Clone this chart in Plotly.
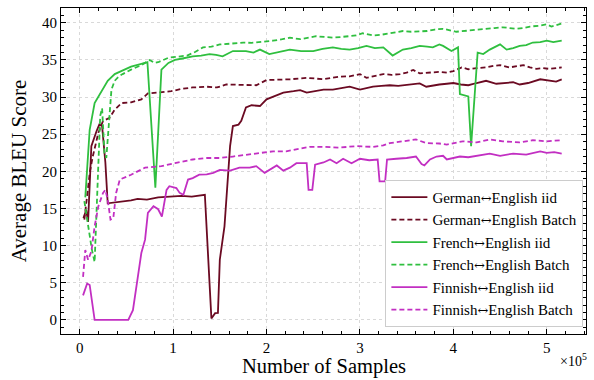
import plotly.graph_objects as go

# Sample counts are in units of 1e5 (axis carries a x10^5 multiplier)
de_iid_x = [0.04, 0.07, 0.09, 0.125, 0.18, 0.21, 0.24, 0.275, 0.30, 0.38, 0.45, 0.55, 0.62, 0.72, 0.84, 0.95,
            1.09, 1.20, 1.34, 1.41, 1.45, 1.48, 1.50, 1.55, 1.61, 1.64, 1.70, 1.73, 1.78, 1.84, 1.93, 2.0,
            2.11, 2.18, 2.29, 2.36, 2.43, 2.52, 2.61, 2.71, 2.80, 2.89, 3.0, 3.07, 3.14, 3.23, 3.32, 3.41,
            3.50, 3.57, 3.64, 3.71, 3.78, 3.85, 3.93, 4.0, 4.08, 4.16, 4.25, 4.35, 4.46, 4.57, 4.64, 4.71,
            4.80, 4.93, 5.03, 5.10, 5.16]
de_iid_y = [13.7, 14.8, 13.2, 23.4, 25.4, 26.3, 26.1, 21.2, 15.7, 15.8, 15.95, 16.1, 16.3, 16.2, 16.5, 16.6,
            16.7, 16.6, 16.85, 0.2, 0.9, 0.95, 8.1, 12.6, 23.4, 26.1, 26.3, 26.8, 28.6, 28.9, 28.8, 29.7,
            30.2, 30.6, 30.8, 30.95, 30.6, 30.8, 31.0, 31.0, 31.2, 31.4, 31.0, 31.2, 31.4, 31.5, 31.6, 31.5,
            31.6, 31.7, 31.85, 31.4, 31.6, 31.7, 31.8, 31.9, 31.7, 31.6, 31.9, 32.2, 31.8, 31.9, 32.0, 31.7,
            31.9, 32.4, 32.2, 32.1, 32.4]

de_batch_x = [0.05, 0.08, 0.11, 0.14, 0.20, 0.25, 0.32, 0.375, 0.45, 0.55, 0.66, 0.73, 0.875, 0.98, 1.09,
              1.21, 1.36, 1.47, 1.57, 1.75, 1.89, 2.0, 2.12, 2.25, 2.34, 2.43, 2.52, 2.61, 2.70, 2.78, 2.89,
              3.0, 3.07, 3.16, 3.25, 3.34, 3.43, 3.50, 3.57, 3.64, 3.74, 3.85, 3.93, 4.0, 4.09, 4.16, 4.25,
              4.35, 4.43, 4.50, 4.60, 4.67, 4.75, 4.82, 4.89, 4.96, 5.03, 5.10, 5.16]
de_batch_y = [13.5, 17.0, 20.0, 22.0, 25.2, 26.8, 27.2, 28.3, 29.2, 29.3, 29.7, 30.5, 30.7, 30.8, 31.1,
              31.3, 31.4, 31.3, 31.7, 31.7, 31.6, 32.3, 32.3, 32.4, 32.5, 32.6, 32.5, 32.4, 32.6, 32.75, 32.8,
              33.1, 32.6, 32.9, 33.1, 33.0, 33.1, 33.3, 33.65, 33.2, 33.3, 33.4, 33.3, 33.5, 34.0, 33.75, 33.9,
              34.0, 34.2, 34.3, 34.0, 34.1, 34.3, 34.0, 33.8, 33.9, 33.8, 33.9, 34.0]

fr_iid_x = [0.06, 0.107, 0.16, 0.23, 0.30, 0.375, 0.46, 0.55, 0.64, 0.725, 0.81, 0.875, 0.95, 1.02, 1.10,
            1.21, 1.30, 1.39, 1.46, 1.53, 1.64, 1.71, 1.78, 1.86, 1.93, 2.03, 2.13, 2.25, 2.37, 2.50, 2.60,
            2.71, 2.80, 2.89, 2.98, 3.07, 3.16, 3.25, 3.35, 3.46, 3.55, 3.64, 3.72, 3.78, 3.85, 3.89, 3.98,
            4.05, 4.07, 4.16, 4.19, 4.26, 4.32, 4.39, 4.50, 4.57, 4.64, 4.71, 4.78, 4.85, 4.93, 5.0, 5.07,
            5.16]
fr_iid_y = [16.5, 25.6, 29.2, 30.8, 32.2, 33.1, 33.6, 34.1, 34.4, 34.7, 17.8, 33.7, 34.6, 35.0, 35.2,
            35.5, 35.6, 35.8, 35.7, 35.5, 36.2, 36.2, 36.2, 36.0, 36.4, 35.8, 36.1, 36.4, 36.2, 36.2, 36.5,
            36.7, 36.5, 36.4, 36.6, 36.9, 36.6, 36.7, 35.6, 36.4, 36.6, 36.9, 36.8, 36.7, 37.1, 36.9, 36.2,
            36.7, 30.4, 30.1, 23.4, 36.0, 35.8, 36.4, 37.1, 36.4, 36.6, 36.9, 37.0, 37.35, 37.4, 37.6, 37.4,
            37.6]

fr_batch_x = [0.05, 0.09, 0.13, 0.16, 0.19, 0.22, 0.24, 0.265, 0.285, 0.31, 0.34, 0.375, 0.42, 0.46, 0.55,
              0.66, 0.75, 0.80, 0.84, 0.95, 1.05, 1.15, 1.24, 1.32, 1.41, 1.50, 1.62, 1.75, 1.84, 1.93, 2.07,
              2.17, 2.25, 2.36, 2.45, 2.53, 2.62, 2.71, 2.80, 2.89, 2.96, 3.03, 3.14, 3.23, 3.32, 3.46, 3.55,
              3.64, 3.72, 3.80, 3.89, 4.03, 4.10, 4.18, 4.27, 4.35, 4.44, 4.53, 4.68, 4.75, 4.82, 4.91, 5.0,
              5.05, 5.10, 5.16]
fr_batch_y = [16.0, 12.5, 9.5, 7.8, 17.0, 27.5, 28.5, 22.5, 21.8, 26.0, 31.0, 32.2, 32.8, 33.1, 33.7,
              34.3, 35.0, 34.6, 34.7, 35.3, 35.5, 35.6, 36.1, 36.7, 36.8, 37.1, 37.2, 37.35, 37.3, 37.4, 37.6,
              37.8, 38.0, 37.8, 38.0, 38.2, 38.1, 38.0, 38.1, 38.2, 38.3, 38.6, 38.3, 38.4, 38.6, 38.9, 38.8,
              38.8, 38.9, 39.1, 39.2, 38.8, 38.9, 39.0, 39.1, 39.2, 39.3, 39.4, 39.2, 39.3, 39.5, 39.6, 39.8,
              39.5, 39.7, 39.9]

fi_iid_x = [0.036, 0.08, 0.107, 0.16, 0.30, 0.45, 0.52, 0.57, 0.61, 0.66, 0.70, 0.73, 0.79, 0.84, 0.88,
            0.93, 0.96, 1.035, 1.07, 1.11, 1.16, 1.21, 1.28, 1.36, 1.43, 1.50, 1.61, 1.71, 1.82, 1.89, 1.98,
            2.03, 2.11, 2.18, 2.25, 2.32, 2.43, 2.45, 2.49, 2.52, 2.61, 2.68, 2.75, 2.82, 2.91, 3.0, 3.1,
            3.19, 3.21, 3.27, 3.29, 3.39, 3.50, 3.60, 3.66, 3.69, 3.75, 3.82, 3.89, 3.93, 4.07, 4.16, 4.25,
            4.39, 4.50, 4.64, 4.78, 4.93, 5.0, 5.08, 5.16]
fi_iid_y = [3.3, 4.9, 4.7, 0.0, 0.0, 0.0, 0.0, 1.3, 4.5, 9.0, 10.8, 14.4, 15.3, 14.9, 13.9,
            17.5, 18.0, 17.75, 17.1, 16.85, 18.9, 19.1, 19.55, 19.6, 19.8, 20.2, 20.1, 20.5, 20.5, 20.7, 19.8,
            20.2, 20.8, 20.1, 20.5, 21.1, 21.1, 17.5, 17.5, 20.9, 21.2, 21.6, 21.1, 21.7, 21.1, 21.7, 21.5,
            21.6, 18.65, 18.65, 21.6, 21.7, 21.8, 22.0, 21.0, 20.8, 21.6, 22.0, 22.1, 21.6, 22.0, 21.9, 22.1,
            22.4, 22.1, 22.4, 22.25, 22.7, 22.5, 22.6, 22.4]

fi_batch_x = [0.036, 0.06, 0.09, 0.125, 0.16, 0.20, 0.25, 0.275, 0.30, 0.33, 0.36, 0.39, 0.43, 0.55, 0.70,
              0.875, 1.02, 1.12, 1.21, 1.36, 1.50, 1.64, 1.78, 1.93, 2.07, 2.21, 2.32, 2.46, 2.61, 2.78, 2.96,
              3.14, 3.25, 3.32, 3.46, 3.60, 3.71, 3.85, 3.93, 4.10, 4.25, 4.39, 4.53, 4.71, 4.85, 5.0, 5.16]
fi_batch_y = [5.8, 9.4, 8.1, 9.2, 12.6, 15.3, 17.1, 17.5, 16.2, 13.5, 13.7, 17.1, 18.9, 19.55, 20.5,
              20.7, 21.1, 21.35, 21.6, 21.8, 21.8, 22.0, 22.25, 22.5, 22.7, 22.7, 23.0, 23.3, 23.3, 23.2, 23.4,
              23.3, 23.5, 23.8, 24.05, 24.3, 23.8, 23.75, 23.6, 24.05, 23.9, 24.3, 24.05, 23.9, 24.2, 24.05, 24.2]

MAROON = "#6b0a22"
GREEN = "#2fbf3f"
MAGENTA = "#c22fc2"

ARROW = '<span style="font-family:DejaVu Serif;font-size:13px">↔</span>'

series = [
    ("German" + ARROW + "English iid", de_iid_x, de_iid_y, MAROON, "solid"),
    ("German" + ARROW + "English Batch", de_batch_x, de_batch_y, MAROON, "5px,3px"),
    ("French" + ARROW + "English iid", fr_iid_x, fr_iid_y, GREEN, "solid"),
    ("French" + ARROW + "English Batch", fr_batch_x, fr_batch_y, GREEN, "5px,3px"),
    ("Finnish" + ARROW + "English iid", fi_iid_x, fi_iid_y, MAGENTA, "solid"),
    ("Finnish" + ARROW + "English Batch", fi_batch_x, fi_batch_y, MAGENTA, "5px,3px"),
]

SERIF = "Liberation Serif, serif"

fig = go.Figure()
for name, xs, ys, color, dash in series:
    fig.add_trace(go.Scatter(x=xs, y=ys, mode="lines", name=name,
                             line=dict(color=color, width=1.8, dash=dash)))

axis_common = dict(
    showline=True, linecolor="black", linewidth=1, mirror="allticks",
    ticks="inside", ticklen=5, tickwidth=1, tickcolor="black",
    showgrid=True, gridcolor="#d9d9d9", griddash="dot", gridwidth=1,
    zeroline=False, tickfont=dict(family=SERIF, size=15, color="black"),
)

fig.update_xaxes(**axis_common, range=[-0.2, 5.42], tickmode="linear", tick0=0, dtick=1,
                 minor=dict(ticks="inside", ticklen=3, tickcolor="black", dtick=0.2, tick0=0, showgrid=False))
fig.update_yaxes(**axis_common, range=[-1.9, 42.0], tickmode="linear", tick0=0, dtick=5,
                 minor=dict(ticks="inside", ticklen=3, tickcolor="black", dtick=1, tick0=0, showgrid=False),
                 title=dict(text="Average BLEU Score", font=dict(family=SERIF, size=21, color="black"),
                            standoff=9))

# x-axis title and the x10^5 multiplier placed below the plot frame
fig.add_annotation(xref="paper", yref="paper", x=0.5, y=-0.1, xanchor="center", yanchor="middle",
                   text="Number of Samples", showarrow=False,
                   font=dict(family=SERIF, size=20.5, color="black"))
fig.add_annotation(xref="paper", yref="paper", x=1.005, y=-0.045, xanchor="right", yanchor="top",
                   text="×10<sup>5</sup>", showarrow=False,
                   font=dict(family=SERIF, size=14, color="black"))

fig.update_layout(
    width=594, height=380,
    margin=dict(l=61, r=8, t=8, b=46),
    paper_bgcolor="white", plot_bgcolor="white",
    font=dict(family=SERIF, color="black"),
    legend=dict(x=0.995, y=0.022, xanchor="right", yanchor="bottom",
                bgcolor="white", bordercolor="#cccccc", borderwidth=1,
                font=dict(family=SERIF, size=15, color="black"),
                tracegroupgap=0, itemwidth=36),
    showlegend=True,
)

fig.write_html("out.html")
